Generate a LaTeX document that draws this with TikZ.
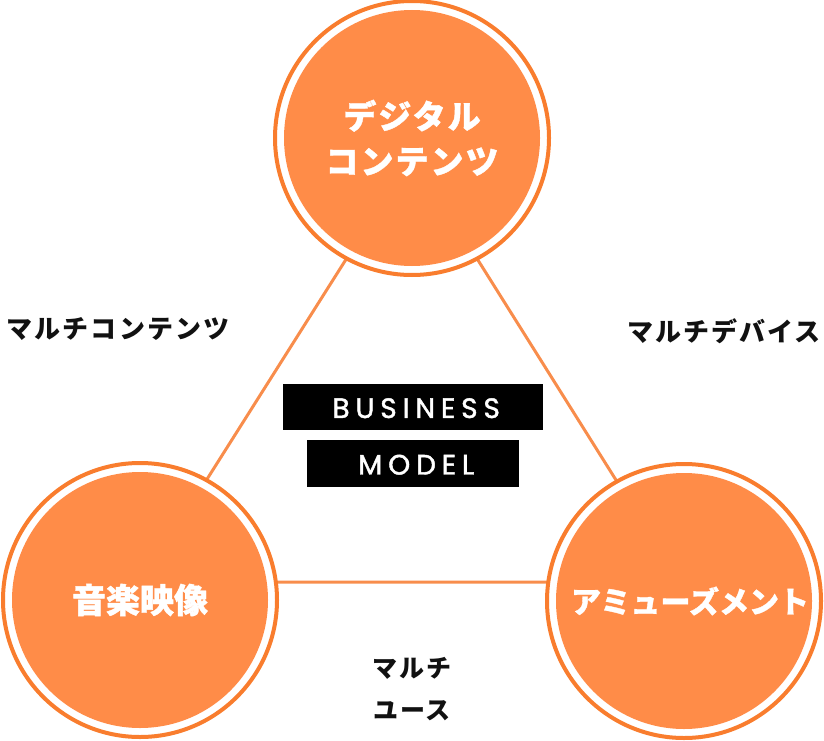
\documentclass[tikz,border=0pt]{standalone}
\usepackage{fontspec}
\usetikzlibrary{backgrounds}
\newfontfamily\jpfont{Noto Sans CJK JP}[FakeBold=1.2]
\newfontfamily\jpcircle{Noto Sans CJK JP}[LetterSpace=6, FakeBold=1.2]
\newfontfamily\jplabel{Noto Sans CJK JP}[LetterSpace=8]
\newfontfamily\latinbox{Poppins}[LetterSpace=21, FakeBold=1.6]
\definecolor{ringc}{HTML}{F97D2E}
\definecolor{fillc}{HTML}{FF8C48}
\definecolor{linec}{HTML}{F88D4C}
\definecolor{inkc}{HTML}{111111}
\tikzset{
  ring/.style={circle, draw=ringc, line width=4pt, fill=white, minimum size=274pt, inner sep=0pt},
  core/.style={circle, fill=fillc, minimum size=256pt, inner sep=0pt, text=white, align=center},
  tri/.style={draw=linec, line width=3pt},
  blackbox/.style={fill=black, text=white, inner sep=0pt, anchor=north west},
  lbl/.style={text=inkc, align=center, inner sep=0pt}
}
\begin{document}
\begin{tikzpicture}[x=1pt, y=-1pt]
\useasboundingbox (0,0) rectangle (824,741);
% triangle vertices
\coordinate (vA) at (412,155);
\coordinate (vB) at (142,582);
\coordinate (vC) at (680,582);
% circles
\node[ring] (topring) at (412,138) {};
\node[core, font=\jpcircle\bfseries\fontsize{33}{47}\selectfont] (top) at (412,138) {デジタル\\[-2pt]コンテンツ};
\node[ring] (leftring) at (140,600) {};
\node[core, font=\jpfont\bfseries\fontsize{34}{40}\selectfont] (left) at (140,600) {音楽映像};
\node[ring] (rightring) at (684,601) {};
\node[core, font=\jpfont\bfseries\fontsize{30}{36}\selectfont] (right) at (684,601) {\hspace*{12pt}アミューズメント};
% lines behind
\begin{scope}[on background layer]
\draw[tri] (vA) -- (vB) -- (vC) -- cycle;
\end{scope}
% center boxes
\node[blackbox, minimum width=260pt, minimum height=46pt] (bizbox) at (283,384) {};
\node[text=white, font=\latinbox\fontsize{28}{30}\selectfont] (biz) at ([xshift=3pt,yshift=-1pt]bizbox.center) {BUSINESS};
\node[blackbox, minimum width=212pt, minimum height=47pt] (modbox) at (307,440) {};
\node[text=white, font=\latinbox\fontsize{28}{30}\selectfont] (mod) at ([xshift=3pt,yshift=-1pt]modbox.center) {MODEL};
% labels
\node[lbl, font=\jplabel\bfseries\fontsize{26}{30}\selectfont] (lmc) at (118,329) {マルチコンテンツ};
\node[lbl, font=\jplabel\bfseries\fontsize{26}{30}\selectfont] (lmd) at (724,331) {マルチデバイス};
\node[lbl, font=\jplabel\bfseries\fontsize{25}{42}\selectfont] (lmu) at (412,689) {マルチ\\ユース};
\end{tikzpicture}
\end{document}
